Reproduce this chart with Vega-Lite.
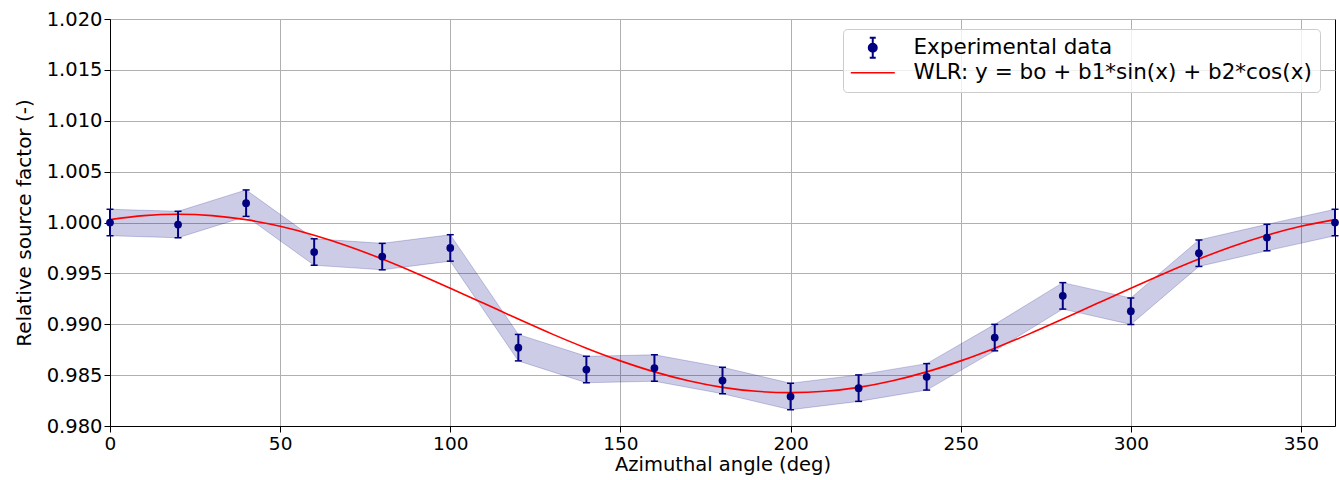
{
  "$schema": "https://vega.github.io/schema/vega-lite/v6.json",
  "width": 1225,
  "height": 407,
  "autosize": {"type": "none"},
  "padding": {"left": 110, "top": 19, "right": 4, "bottom": 54},
  "background": "white",
  "datasets": {
    "pts": [
      {"angle": 0, "f": 1.0000, "lo": 0.9987, "hi": 1.0013},
      {"angle": 20, "f": 0.9998, "lo": 0.9985, "hi": 1.0011},
      {"angle": 40, "f": 1.0019, "lo": 1.0006, "hi": 1.0032},
      {"angle": 60, "f": 0.9971, "lo": 0.9958, "hi": 0.9984},
      {"angle": 80, "f": 0.99665, "lo": 0.99535, "hi": 0.99795},
      {"angle": 100, "f": 0.9975, "lo": 0.9962, "hi": 0.9988},
      {"angle": 120, "f": 0.9877, "lo": 0.9864, "hi": 0.989},
      {"angle": 140, "f": 0.98555, "lo": 0.98425, "hi": 0.98685},
      {"angle": 160, "f": 0.9857, "lo": 0.9844, "hi": 0.987},
      {"angle": 180, "f": 0.98447, "lo": 0.98317, "hi": 0.98577},
      {"angle": 200, "f": 0.9829, "lo": 0.9816, "hi": 0.9842},
      {"angle": 220, "f": 0.98372, "lo": 0.98242, "hi": 0.98502},
      {"angle": 240, "f": 0.98483, "lo": 0.98353, "hi": 0.98613},
      {"angle": 260, "f": 0.98869, "lo": 0.98739, "hi": 0.98999},
      {"angle": 280, "f": 0.99279, "lo": 0.99149, "hi": 0.99409},
      {"angle": 300, "f": 0.99128, "lo": 0.98998, "hi": 0.99258},
      {"angle": 320, "f": 0.99698, "lo": 0.99568, "hi": 0.99828},
      {"angle": 340, "f": 0.99852, "lo": 0.99722, "hi": 0.99982},
      {"angle": 360, "f": 1.0000, "lo": 0.9987, "hi": 1.0013}
    ],
    "fit": [
      {"angle": 0, "f": 1.00028},
      {"angle": 10, "f": 1.00068},
      {"angle": 20, "f": 1.00081},
      {"angle": 30, "f": 1.00068},
      {"angle": 40, "f": 1.00028},
      {"angle": 50, "f": 0.99963},
      {"angle": 60, "f": 0.99875},
      {"angle": 70, "f": 0.99767},
      {"angle": 80, "f": 0.99641},
      {"angle": 90, "f": 0.99502},
      {"angle": 100, "f": 0.99354},
      {"angle": 110, "f": 0.99203},
      {"angle": 120, "f": 0.99051},
      {"angle": 130, "f": 0.98903},
      {"angle": 140, "f": 0.98765},
      {"angle": 150, "f": 0.98640},
      {"angle": 160, "f": 0.98532},
      {"angle": 170, "f": 0.98445},
      {"angle": 180, "f": 0.98380},
      {"angle": 190, "f": 0.98341},
      {"angle": 200, "f": 0.98328},
      {"angle": 210, "f": 0.98341},
      {"angle": 220, "f": 0.98380},
      {"angle": 230, "f": 0.98445},
      {"angle": 240, "f": 0.98532},
      {"angle": 250, "f": 0.98640},
      {"angle": 260, "f": 0.98765},
      {"angle": 270, "f": 0.98903},
      {"angle": 280, "f": 0.99051},
      {"angle": 290, "f": 0.99203},
      {"angle": 300, "f": 0.99354},
      {"angle": 310, "f": 0.99502},
      {"angle": 320, "f": 0.99641},
      {"angle": 330, "f": 0.99767},
      {"angle": 340, "f": 0.99875},
      {"angle": 350, "f": 0.99963},
      {"angle": 360, "f": 1.00028}
    ]
  },
  "config": {
    "font": "DejaVu Sans",
    "view": {"stroke": "black", "strokeWidth": 1},
    "axis": {
      "labelFont": "DejaVu Sans",
      "titleFont": "DejaVu Sans",
      "labelFontSize": 19.5,
      "titleFontSize": 20,
      "titleFontWeight": "normal",
      "labelColor": "black",
      "titleColor": "black",
      "domainColor": "black",
      "domainWidth": 1,
      "tickColor": "black",
      "tickSize": 6,
      "tickWidth": 1,
      "labelPadding": 2,
      "gridColor": "#b0b0b0",
      "gridWidth": 1,
      "gridOpacity": 1,
      "labelFlush": false,
      "labelOverlap": false
    },
    "axisX": {"labelFontSize": 18.5, "titleFontSize": 19.5}
  },
  "encoding": {
    "x": {
      "field": "angle",
      "type": "quantitative",
      "scale": {"domain": [0, 360], "nice": false, "zero": false},
      "axis": {"values": [0, 50, 100, 150, 200, 250, 300, 350], "title": "Azimuthal angle (deg)", "titlePadding": 3}
    },
    "y": {
      "field": "f",
      "type": "quantitative",
      "scale": {"domain": [0.98, 1.02], "nice": false, "zero": false},
      "axis": {
        "values": [0.98, 0.985, 0.99, 0.995, 1.0, 1.005, 1.01, 1.015, 1.02],
        "format": ".3f",
        "title": "Relative source factor (-)",
        "titlePadding": 12
      }
    }
  },
  "layer": [
    {
      "data": {"name": "pts"},
      "mark": {"type": "area", "color": "navy", "fillOpacity": 0.2, "stroke": "navy", "strokeOpacity": 0.2, "strokeWidth": 1},
      "encoding": {
        "y": {"field": "lo", "type": "quantitative"},
        "y2": {"field": "hi"}
      }
    },
    {
      "data": {"name": "fit"},
      "mark": {"type": "line", "interpolate": "monotone", "strokeWidth": 1.6},
      "encoding": {
        "color": {
          "datum": "WLR: y = bo + b1*sin(x) + b2*cos(x)",
          "type": "nominal",
          "scale": {
            "domain": ["Experimental data", "WLR: y = bo + b1*sin(x) + b2*cos(x)"],
            "range": ["navy", "red"]
          },
          "legend": {
            "title": null,
            "orient": "none",
            "legendX": 733,
            "legendY": 10,
            "padding": 8,
            "strokeColor": "#cccccc",
            "fillColor": "rgba(255,255,255,0.8)",
            "cornerRadius": 4,
            "labelFont": "DejaVu Sans",
            "labelFontSize": 21.5,
            "labelColor": "black",
            "labelLimit": 1000,
            "labelOffset": 41,
            "rowPadding": -2,
            "symbolSize": 400,
            "encode": {
              "symbols": {
                "update": {
                  "shape": {"signal": "datum.value === 'Experimental data' ? 'M1.1,-1L1.1,1M0.8,-1L1.4,-1M0.8,1L1.4,1M0.7,0A0.4,0.4,0,1,0,1.5,0A0.4,0.4,0,1,0,0.7,0Z' : 'M-1.1,0L3.3,0'"},
                  "fill": {"signal": "datum.value === 'Experimental data' ? 'navy' : 'transparent'"},
                  "stroke": {"signal": "datum.value === 'Experimental data' ? 'navy' : 'red'"},
                  "strokeWidth": {"signal": "datum.value === 'Experimental data' ? 2 : 1.6"},
                  "size": {"value": 400},
                  "opacity": {"value": 1},
                  "fillOpacity": {"value": 1},
                  "strokeOpacity": {"value": 1}
                }
              }
            }
          }
        }
      }
    },
    {
      "data": {"name": "pts"},
      "mark": {"type": "rule", "color": "navy", "strokeWidth": 2},
      "encoding": {
        "y": {"field": "lo", "type": "quantitative"},
        "y2": {"field": "hi"}
      }
    },
    {
      "data": {"name": "pts"},
      "mark": {"type": "tick", "orient": "horizontal", "color": "navy", "size": 7, "thickness": 1.5, "opacity": 1},
      "encoding": {
        "y": {"field": "lo", "type": "quantitative"}
      }
    },
    {
      "data": {"name": "pts"},
      "mark": {"type": "tick", "orient": "horizontal", "color": "navy", "size": 7, "thickness": 1.5, "opacity": 1},
      "encoding": {
        "y": {"field": "hi", "type": "quantitative"}
      }
    },
    {
      "data": {"name": "pts"},
      "mark": {"type": "point", "filled": true, "size": 60, "opacity": 1},
      "encoding": {
        "color": {"datum": "Experimental data", "type": "nominal"}
      }
    }
  ]
}
